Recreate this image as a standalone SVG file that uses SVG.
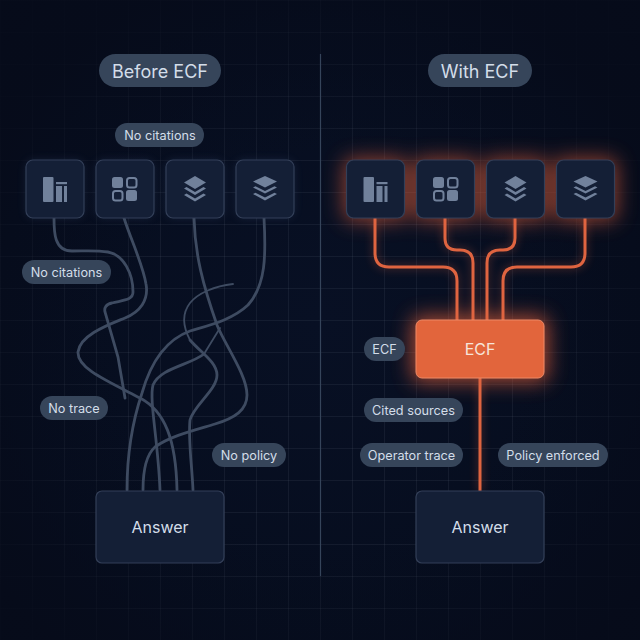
<svg xmlns="http://www.w3.org/2000/svg" width="640" height="640" viewBox="0 0 640 640">
<style>
text{font-family:"Inter","Roboto","Liberation Sans",sans-serif;fill:#d3dde9;text-anchor:middle;dominant-baseline:central}
.pill{fill:#36455a}
.t13{font-size:12.700px}
.t18{font-size:18px}
.t16{font-size:16px}
.card{fill:#141f36;stroke:#333f58;stroke-width:1.200}
.ico{fill:#71819b}
.icol{fill:none;stroke:#71819b;stroke-width:2}
.wire{fill:none;stroke:#3e4b61;stroke-width:2.800;stroke-linecap:round}
.wire2{fill:none;stroke:#3e4b61;stroke-width:1.800;stroke-linecap:round}
.flow{fill:none;stroke:#df6440;stroke-width:3}
.glow{fill:#e8623a}
.ln{stroke:#b9c8da;stroke-opacity:.07;stroke-width:1}
</style>
<defs>
<radialGradient id="bg" cx="50%" cy="50%" r="72%"><stop offset="0" stop-color="#081024"/><stop offset=".7" stop-color="#060d1e"/><stop offset="1" stop-color="#060a18"/></radialGradient>
<radialGradient id="fade" cx="50%" cy="55%" r="62%"><stop offset=".5" stop-color="#060c1c" stop-opacity="0"/><stop offset="1" stop-color="#060b1a" stop-opacity=".9"/></radialGradient>
<pattern id="grid" width="32" height="32" patternUnits="userSpaceOnUse"><path class="ln" d="M.5 0V32M0 .5H32" fill="none"/></pattern>
<filter id="blurO" x="-60%" y="-60%" width="220%" height="220%"><feGaussianBlur stdDeviation="10"/></filter>
<filter id="blurS" x="-60%" y="-60%" width="220%" height="220%"><feGaussianBlur stdDeviation="4"/></filter>
<g id="i1"><rect class="ico" x="0" y="0" width="10.500" height="25" rx="1"/><rect class="ico" x="13" y="9" width="6" height="16"/><rect class="ico" x="21" y="9" width="3" height="16"/><rect class="ico" x="13" y="5" width="11" height="2.200"/></g>
<g id="i2"><rect class="ico" x="0" y="0" width="11" height="11" rx="2.500"/><rect class="icol" x="15" y="1" width="9.500" height="9.500" rx="2.500"/><rect class="icol" x="1" y="14" width="9.500" height="9.500" rx="2.500"/><rect class="ico" x="14" y="13" width="11" height="11" rx="2.500"/></g>
<g id="i3"><path class="ico" d="M0 6.500 11 0 22 6.500 11 13Z"/><path class="ico" d="M0 12.500 2.500 11 11 16 19.500 11 22 12.500 11 19Z"/><path class="ico" d="M0 19 2.500 17.500 11 22.500 19.500 17.500 22 19 11 25.500Z"/></g>
<g id="i4"><path class="ico" d="M0 5.500 12 0 24 5.500 12 11.500Z"/><path class="ico" d="M0 11.500 2.500 10.300 12 15 21.500 10.300 24 11.500 12 17.500Z"/><path class="ico" d="M0 18 2.500 16.800 12 21.500 21.500 16.800 24 18 12 24.500Z"/></g>
</defs>
<rect width="640" height="640" fill="url(#bg)"/>
<rect width="640" height="640" fill="url(#grid)"/>
<rect width="640" height="640" fill="url(#fade)"/>
<line x1="320.500" y1="54" x2="320.500" y2="576" stroke="#35445a" stroke-width="1.200"/>

<g id="glows">
<g opacity=".6" filter="url(#blurO)">
<rect class="glow" x="344" y="158" width="63" height="63" rx="8"/><rect class="glow" x="414" y="158" width="63" height="63" rx="8"/><rect class="glow" x="484" y="158" width="63" height="63" rx="8"/><rect class="glow" x="554" y="158" width="63" height="63" rx="8"/>
</g>
<rect class="glow" x="412" y="316" width="136" height="66" rx="8" opacity=".7" filter="url(#blurO)"/>
<g opacity=".3" filter="url(#blurS)" stroke="#df6440" stroke-width="5">
<path fill="none" d="M375 218V253Q375 267 389 267H443Q457 267 457 281V320M445 218V238Q445 250 457 250H460Q473 250 473 263V320M515 218V238Q515 250 503 250H500Q487 250 487 263V320M585 218V253Q585 267 571 267H517Q503 267 503 281V320M480 378V491"/>
</g>
<g opacity=".25" filter="url(#blurS)" fill="#3f5a86">
<rect x="26" y="160" width="58" height="58" rx="8"/><rect x="96" y="160" width="58" height="58" rx="8"/><rect x="166" y="160" width="58" height="58" rx="8"/><rect x="236" y="160" width="58" height="58" rx="8"/>
</g>
</g>

<g id="connectors">
<path class="wire" d="M54 218C54 232 54 251 72 251C85 251 96 250 108 252C124 255 133 274 133 292C133 300 124 300 112 303C106 304 104 308 105 312L118 357L125 398"/>
<path class="wire" d="M124 218C131 240 143 265 146 284C149 300 140 312 125 318C108 325 80 335 78 352C77 368 105 380 140 398C165 411 176 440 177 490"/>
<path class="wire" d="M194 218C195 255 203 285 217 325C225 345 247 375 247 395C247 410 235 418 215 424C195 430 170 436 155 447C146 455 143 470 143 490"/>
<path class="wire" d="M264 218C266 255 266 285 248 305C232 320 210 325 190 331C165 340 150 365 142 393C133 420 127 450 127 490"/>
<path class="wire2" d="M233 284C215 286 198 293 190 303C183 312 182 325 190 340"/>
<path class="wire" d="M190 340C200 352 217 362 217 375C217 390 194 405 190 420C188 440 192 465 193 490"/>
<path class="wire2" d="M220 328L204 354"/>
<path class="wire" d="M204 354C190 365 160 368 153 385C149 400 158 440 160 490"/>
<g id="flows">
<path class="flow" d="M375 218V253Q375 267 389 267H443Q457 267 457 281V320"/>
<path class="flow" d="M445 218V238Q445 250 457 250H460Q473 250 473 263V320"/>
<path class="flow" d="M515 218V238Q515 250 503 250H500Q487 250 487 263V320"/>
<path class="flow" d="M585 218V253Q585 267 571 267H517Q503 267 503 281V320"/>
<path class="flow" d="M480 378V491"/>
</g>
</g>

<g id="before-title"><rect class="pill" x="99" y="54" width="122" height="33" rx="16.500"/><text class="t18" x="160" y="71">Before ECF</text></g>
<g id="with-title"><rect class="pill" x="428" y="54" width="104" height="33" rx="16.500"/><text class="t18" x="480" y="71">With ECF</text></g>
<g id="pill-no-citations-top"><rect class="pill" x="115" y="123" width="89" height="24" rx="12"/><text class="t13" x="160" y="135">No citations</text></g>
<g id="pill-no-citations"><rect class="pill" x="22" y="260" width="89" height="24" rx="12"/><text class="t13" x="66.500" y="272">No citations</text></g>
<g id="pill-no-trace"><rect class="pill" x="40" y="396" width="68" height="24" rx="12"/><text class="t13" x="74" y="408">No trace</text></g>
<g id="pill-no-policy"><rect class="pill" x="212" y="443" width="74" height="24" rx="12"/><text class="t13" x="249" y="455">No policy</text></g>
<g id="pill-ecf"><rect class="pill" x="364" y="337" width="41" height="24" rx="12"/><text class="t13" x="384.500" y="349">ECF</text></g>
<g id="pill-cited"><rect class="pill" x="364" y="398" width="99" height="24" rx="12"/><text class="t13" x="413.500" y="410">Cited sources</text></g>
<g id="pill-operator"><rect class="pill" x="360" y="443" width="103" height="24" rx="12"/><text class="t13" x="411.500" y="455">Operator trace</text></g>
<g id="pill-policy"><rect class="pill" x="498" y="443" width="110" height="24" rx="12"/><text class="t13" x="553" y="455">Policy enforced</text></g>

<g id="src-l1"><rect class="card" x="26" y="160" width="58" height="58" rx="7"/><use href="#i1" x="43" y="177"/></g>
<g id="src-l2"><rect class="card" x="96" y="160" width="58" height="58" rx="7"/><use href="#i2" x="112" y="177"/></g>
<g id="src-l3"><rect class="card" x="166" y="160" width="58" height="58" rx="7"/><use href="#i3" x="184" y="176"/></g>
<g id="src-l4"><rect class="card" x="236" y="160" width="58" height="58" rx="7"/><use href="#i4" x="253" y="176"/></g>
<g id="src-r1"><rect class="card" x="346.500" y="160" width="58" height="58" rx="7"/><use href="#i1" x="363.500" y="177"/></g>
<g id="src-r2"><rect class="card" x="416.500" y="160" width="58" height="58" rx="7"/><use href="#i2" x="433" y="177"/></g>
<g id="src-r3"><rect class="card" x="486.500" y="160" width="58" height="58" rx="7"/><use href="#i3" x="504.500" y="176"/></g>
<g id="src-r4"><rect class="card" x="556.500" y="160" width="58" height="58" rx="7"/><use href="#i4" x="573.500" y="176"/></g>

<g id="ecf"><rect x="416" y="320" width="128" height="58" rx="6" fill="#e2653c" stroke="#ee8a66" stroke-width="1"/><text class="t16" x="480" y="349" style="fill:#f6e4da">ECF</text></g>
<g id="answer-left"><rect class="card" x="96" y="491" width="128" height="72" rx="6"/><text class="t16" x="160" y="527">Answer</text></g>
<g id="answer-right"><rect class="card" x="416" y="491" width="128" height="72" rx="6"/><text class="t16" x="480" y="527">Answer</text></g>
</svg>
